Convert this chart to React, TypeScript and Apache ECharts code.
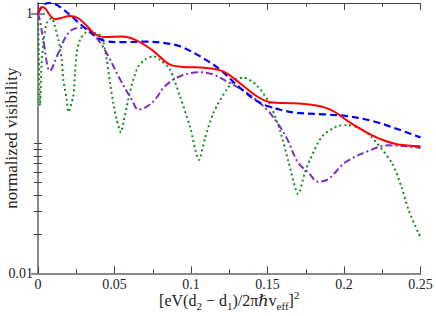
import React, { useEffect, useRef } from "react";
import * as echarts from "echarts";

const xMajorTicks = [0, 0.05, 0.1, 0.15, 0.2, 0.25];
const xMinorTicks = [0.025, 0.075, 0.125, 0.175, 0.225];
const yMajorTicks = [0.01, 1];
const yMinorTicks = [0.02, 0.03, 0.04, 0.05, 0.06, 0.07, 0.08, 0.09, 0.1];

const redSolid = [
  [0, 1.0], [0.0015, 1.09], [0.0028, 1.12], [0.005, 1.08], [0.008, 0.96],
  [0.0111, 0.9], [0.015, 0.92], [0.0209, 0.955], [0.026, 0.92], [0.032, 0.8],
  [0.0373, 0.69], [0.0438, 0.656], [0.0547, 0.664], [0.0634, 0.627], [0.0743, 0.525],
  [0.0797, 0.462], [0.0863, 0.403], [0.095, 0.387], [0.11, 0.38], [0.121, 0.358],
  [0.132, 0.29], [0.143, 0.23], [0.152, 0.207], [0.168, 0.203], [0.182, 0.195],
  [0.193, 0.177], [0.204, 0.144], [0.215, 0.121], [0.2246, 0.107], [0.2355, 0.098],
  [0.25, 0.095],
];

const blueDashed = [
  [0, 1.0], [0.002, 1.1], [0.004, 1.17], [0.0075, 1.2], [0.011, 1.18],
  [0.0155, 1.096], [0.022, 0.945], [0.0307, 0.77], [0.0394, 0.645], [0.0449, 0.608],
  [0.0547, 0.6], [0.07, 0.605], [0.083, 0.59], [0.0928, 0.557], [0.1059, 0.467],
  [0.119, 0.369], [0.132, 0.267], [0.145, 0.205], [0.158, 0.182], [0.168, 0.172],
  [0.1863, 0.167], [0.2018, 0.162], [0.219, 0.148], [0.2322, 0.132], [0.25, 0.111],
];

const purpleDashDot = [
  [0, 1.0], [0.0015, 0.85], [0.0035, 0.62], [0.0078, 0.36], [0.0133, 0.495],
  [0.0198, 0.705], [0.0263, 0.77], [0.0307, 0.77], [0.0384, 0.645], [0.046, 0.467],
  [0.0525, 0.328], [0.0612, 0.217], [0.0656, 0.182], [0.07, 0.188], [0.0765, 0.217],
  [0.083, 0.275], [0.0928, 0.328], [0.1059, 0.352], [0.1146, 0.338], [0.1233, 0.3],
  [0.1364, 0.245], [0.1495, 0.182], [0.158, 0.135], [0.1625, 0.11], [0.17, 0.071],
  [0.1767, 0.0596], [0.1832, 0.0506], [0.1897, 0.053], [0.2007, 0.0711], [0.2159, 0.0873],
  [0.229, 0.0965], [0.2486, 0.0927], [0.25, 0.092],
];

const greenDotted = [
  [0, 1.0], [0.0005, 0.5], [0.0013, 0.195], [0.0023, 0.4], [0.0039, 0.65],
  [0.0059, 0.85], [0.009, 0.92], [0.0111, 0.79], [0.0133, 0.627], [0.0155, 0.44],
  [0.0165, 0.31], [0.0188, 0.217], [0.0198, 0.174], [0.023, 0.23], [0.0242, 0.348],
  [0.0253, 0.495], [0.0275, 0.627], [0.0307, 0.705], [0.034, 0.725], [0.0373, 0.705],
  [0.0416, 0.664], [0.0449, 0.44], [0.0471, 0.29], [0.0492, 0.205], [0.0514, 0.153],
  [0.0542, 0.121], [0.0558, 0.144], [0.059, 0.217], [0.0623, 0.31], [0.0656, 0.391],
  [0.07, 0.44], [0.0754, 0.467], [0.0797, 0.44], [0.0863, 0.369], [0.0928, 0.23],
  [0.0993, 0.135], [0.1052, 0.0745], [0.1092, 0.11], [0.1146, 0.171], [0.1233, 0.259],
  [0.1294, 0.31], [0.1342, 0.32], [0.1429, 0.28], [0.1516, 0.2], [0.1582, 0.125],
  [0.1636, 0.073], [0.1701, 0.0407], [0.1745, 0.06], [0.1778, 0.075], [0.1854, 0.112],
  [0.1952, 0.135], [0.2018, 0.138], [0.2093, 0.132], [0.217, 0.115], [0.2312, 0.071],
  [0.2377, 0.0458], [0.242, 0.0312], [0.2486, 0.0204], [0.25, 0.019],
];

const FONT = "'Liberation Serif', 'DejaVu Serif', serif";
const AXIS_COLOR = "#888";
const TICK_COLOR = "#444";

const fmt = (v: number) => String(+v.toFixed(4));

export default function App() {
  const ref = useRef<HTMLDivElement>(null);
  useEffect(() => {
    if (!ref.current) return;
    const chart = echarts.init(ref.current, null, { renderer: "svg" });
    const xBase = { type: "value", min: 0, max: 0.25, gridIndex: 0, splitLine: { show: false } };
    const yBase = { type: "log", logBase: 10, min: 0.01, max: 1.2, gridIndex: 0, splitLine: { show: false } };
    const option: any = {
      animation: false,
      backgroundColor: "#fff",
      grid: { left: 38, right: 15.5, top: 3, bottom: 42.7, containLabel: false, outerBoundsMode: "none" },
      xAxis: [
        {
          ...xBase, position: "bottom",
          axisLine: { show: true, lineStyle: { color: AXIS_COLOR, width: 2 } },
          axisTick: { show: true, inside: true, length: 7, customValues: xMajorTicks, lineStyle: { color: TICK_COLOR, width: 1 } },
          axisLabel: { show: true, customValues: xMajorTicks, formatter: fmt, margin: 4, fontSize: 14, color: "#222", fontFamily: FONT },
          name: "[eV(d{sub|2} − d{sub|1})/2πℏv{sub|eff}]{sup|2}",
          nameLocation: "middle",
          nameGap: 16,
          nameMoveOverlap: false,
          nameTextStyle: {
            fontSize: 16, color: "#222", fontFamily: FONT, lineHeight: 22,
            rich: {
              sub: { fontSize: 11, fontFamily: FONT, color: "#222", verticalAlign: "bottom", lineHeight: 13 },
              sup: { fontSize: 11, fontFamily: FONT, color: "#222", verticalAlign: "top", lineHeight: 13 },
            },
          },
        },
        {
          ...xBase, position: "bottom",
          axisLine: { show: false },
          axisTick: { show: true, inside: true, length: 4, customValues: xMinorTicks, lineStyle: { color: TICK_COLOR, width: 1 } },
          axisLabel: { show: false },
        },
        {
          ...xBase, position: "top",
          axisLine: { show: true, lineStyle: { color: "#444", width: 1 } },
          axisTick: { show: true, inside: true, length: 7, customValues: xMajorTicks, lineStyle: { color: TICK_COLOR, width: 1 } },
          axisLabel: { show: false },
        },
        {
          ...xBase, position: "top",
          axisLine: { show: false },
          axisTick: { show: true, inside: true, length: 4, customValues: xMinorTicks, lineStyle: { color: TICK_COLOR, width: 1 } },
          axisLabel: { show: false },
        },
      ],
      yAxis: [
        {
          ...yBase, position: "left",
          axisLine: { show: true, lineStyle: { color: AXIS_COLOR, width: 2 } },
          axisTick: { show: true, inside: true, length: 7, customValues: yMajorTicks, lineStyle: { color: AXIS_COLOR, width: 2 } },
          axisLabel: { show: true, customValues: yMajorTicks, formatter: fmt, margin: 5, fontSize: 14, color: "#222", fontFamily: FONT },
          name: "normalized visibility",
          nameLocation: "middle",
          nameGap: 18,
          nameMoveOverlap: false,
          nameTextStyle: { fontSize: 17, color: "#222", fontFamily: FONT },
        },
        {
          ...yBase, position: "left",
          axisLine: { show: false },
          axisTick: { show: true, inside: true, length: 4, customValues: yMinorTicks, lineStyle: { color: TICK_COLOR, width: 1 } },
          axisLabel: { show: false },
        },
        {
          ...yBase, position: "right",
          axisLine: { show: true, lineStyle: { color: AXIS_COLOR, width: 2 } },
          axisTick: { show: true, inside: true, length: 7, customValues: yMajorTicks, lineStyle: { color: AXIS_COLOR, width: 2 } },
          axisLabel: { show: false },
        },
        {
          ...yBase, position: "right",
          axisLine: { show: false },
          axisTick: { show: true, inside: true, length: 4, customValues: yMinorTicks, lineStyle: { color: TICK_COLOR, width: 1 } },
          axisLabel: { show: false },
        },
      ],
      series: [
        {
          type: "line", data: greenDotted, xAxisIndex: 0, yAxisIndex: 0, showSymbol: false, smooth: 0.25,
          lineStyle: { color: "#15891a", width: 2, type: [2, 3] },
        },
        {
          type: "line", data: purpleDashDot, xAxisIndex: 0, yAxisIndex: 0, showSymbol: false, smooth: 0.35,
          lineStyle: { color: "#7b2fc4", width: 2, type: [7, 3, 2, 3] },
        },
        {
          type: "line", data: blueDashed, xAxisIndex: 0, yAxisIndex: 0, showSymbol: false, smooth: 0.35,
          lineStyle: { color: "#0000ff", width: 2.2, type: [7, 4] },
        },
        {
          type: "line", data: redSolid, xAxisIndex: 0, yAxisIndex: 0, showSymbol: false, smooth: 0.35,
          lineStyle: { color: "#ff0000", width: 2 },
        },
      ],
    };
    chart.setOption(option);
    return () => chart.dispose();
  }, []);
  return (
    <div
      ref={ref}
      style={{ position: "fixed", left: 0, top: 0, width: 436, height: 316, background: "#fff" }}
    />
  );
}
